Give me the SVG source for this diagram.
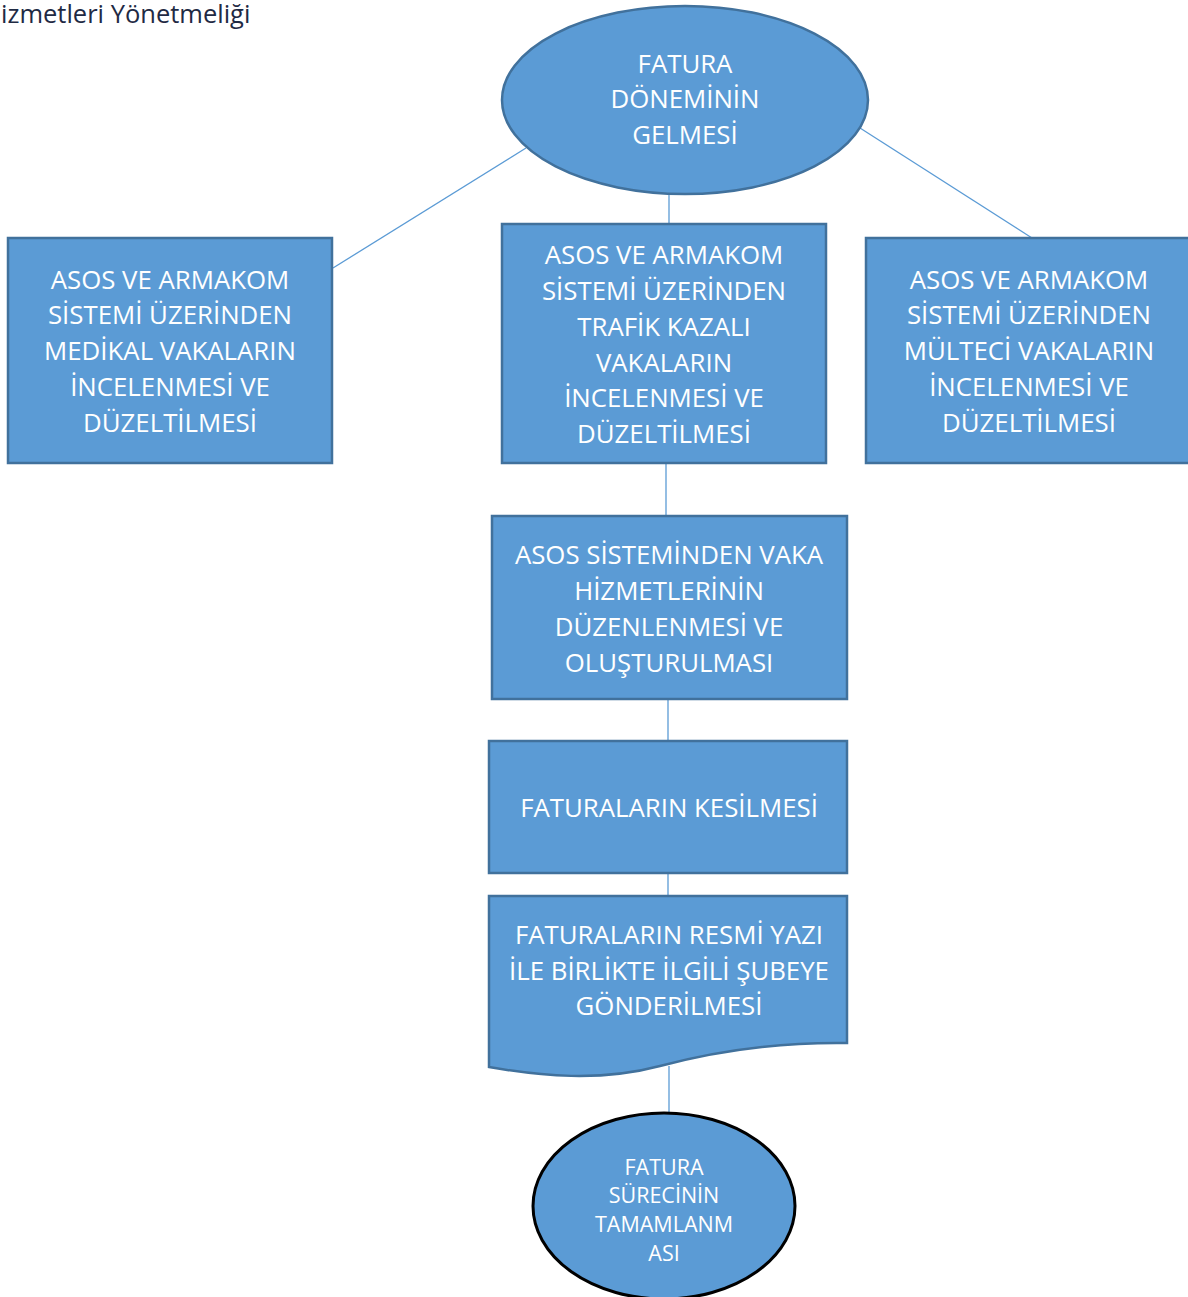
<svg xmlns="http://www.w3.org/2000/svg" width="1188" height="1297" viewBox="0 0 1188 1297">
  <style>
    .shape { fill: #5B9BD5; stroke: #41719C; stroke-width: 2.5; }
    .end { fill: #5B9BD5; stroke: #000000; stroke-width: 3; }
    .lbl { font-family: "Open Sans", "Noto Sans", "DejaVu Sans", sans-serif; font-size: 25.8px; fill: #FFFFFF; text-anchor: middle; }
    .small { font-size: 21.5px; }
    .link { stroke: #5B9BD5; stroke-width: 1.3; fill: none; }
    .head { font-family: "Open Sans", "Noto Sans", sans-serif; font-size: 25.5px; fill: #1F2A44; }
  </style>
  <rect width="1188" height="1297" fill="#FFFFFF"/>

  <text class="head" x="1" y="23">izmetleri Yönetmeliği</text>

  <!-- connectors -->
  <g id="connectors">
    <line class="link" x1="526" y1="148" x2="333" y2="268"/>
    <line class="link" x1="860" y1="128" x2="1032" y2="238"/>
    <line class="link" x1="669" y1="194" x2="669" y2="224"/>
    <line class="link" x1="666" y1="463" x2="666" y2="516"/>
    <line class="link" x1="668" y1="699" x2="668" y2="741"/>
    <line class="link" x1="668" y1="873" x2="668" y2="896"/>
    <line class="link" x1="669" y1="1066" x2="669" y2="1113"/>
  </g>

  <!-- start -->
  <g id="start">
    <ellipse class="shape" cx="685" cy="100" rx="183" ry="94"/>
    <text class="lbl" x="685" y="73">FATURA</text>
    <text class="lbl" x="685" y="108">DÖNEMİNİN</text>
    <text class="lbl" x="685" y="144">GELMESİ</text>
  </g>

  <g id="medical">
    <rect class="shape" x="8" y="238" width="324" height="225"/>
    <text class="lbl" x="170" y="289">ASOS VE ARMAKOM</text>
    <text class="lbl" x="170" y="324">SİSTEMİ ÜZERİNDEN</text>
    <text class="lbl" x="170" y="360">MEDİKAL VAKALARIN</text>
    <text class="lbl" x="170" y="396">İNCELENMESİ VE</text>
    <text class="lbl" x="170" y="432">DÜZELTİLMESİ</text>
  </g>

  <g id="traffic">
    <rect class="shape" x="502" y="224" width="324" height="239"/>
    <text class="lbl" x="664" y="264">ASOS VE ARMAKOM</text>
    <text class="lbl" x="664" y="300">SİSTEMİ ÜZERİNDEN</text>
    <text class="lbl" x="664" y="336">TRAFİK KAZALI</text>
    <text class="lbl" x="664" y="372">VAKALARIN</text>
    <text class="lbl" x="664" y="407">İNCELENMESİ VE</text>
    <text class="lbl" x="664" y="443">DÜZELTİLMESİ</text>
  </g>

  <g id="refugee">
    <rect class="shape" x="866" y="238" width="324" height="225"/>
    <text class="lbl" x="1029" y="289">ASOS VE ARMAKOM</text>
    <text class="lbl" x="1029" y="324">SİSTEMİ ÜZERİNDEN</text>
    <text class="lbl" x="1029" y="360">MÜLTECİ VAKALARIN</text>
    <text class="lbl" x="1029" y="396">İNCELENMESİ VE</text>
    <text class="lbl" x="1029" y="432">DÜZELTİLMESİ</text>
  </g>

  <g id="services">
    <rect class="shape" x="492" y="516" width="355" height="183"/>
    <text class="lbl" x="669" y="564">ASOS SİSTEMİNDEN VAKA</text>
    <text class="lbl" x="669" y="600">HİZMETLERİNİN</text>
    <text class="lbl" x="669" y="636">DÜZENLENMESİ VE</text>
    <text class="lbl" x="669" y="672">OLUŞTURULMASI</text>
  </g>

  <g id="invoicing">
    <rect class="shape" x="489" y="741" width="358" height="132"/>
    <text class="lbl" x="669" y="817">FATURALARIN KESİLMESİ</text>
  </g>

  <g id="dispatch">
    <path class="shape" d="M489,896 H847 V1043 C780,1042 720,1050 660,1066 C600,1082 540,1076 489,1067 Z"/>
    <text class="lbl" x="669" y="944">FATURALARIN RESMİ YAZI</text>
    <text class="lbl" x="669" y="980">İLE BİRLİKTE İLGİLİ ŞUBEYE</text>
    <text class="lbl" x="669" y="1015">GÖNDERİLMESİ</text>
  </g>

  <g id="finish">
    <ellipse class="end" cx="664" cy="1206" rx="131" ry="93"/>
    <text class="lbl small" x="664" y="1175">FATURA</text>
    <text class="lbl small" x="664" y="1203">SÜRECİNİN</text>
    <text class="lbl small" x="664" y="1232">TAMAMLANM</text>
    <text class="lbl small" x="664" y="1261">ASI</text>
  </g>
</svg>
